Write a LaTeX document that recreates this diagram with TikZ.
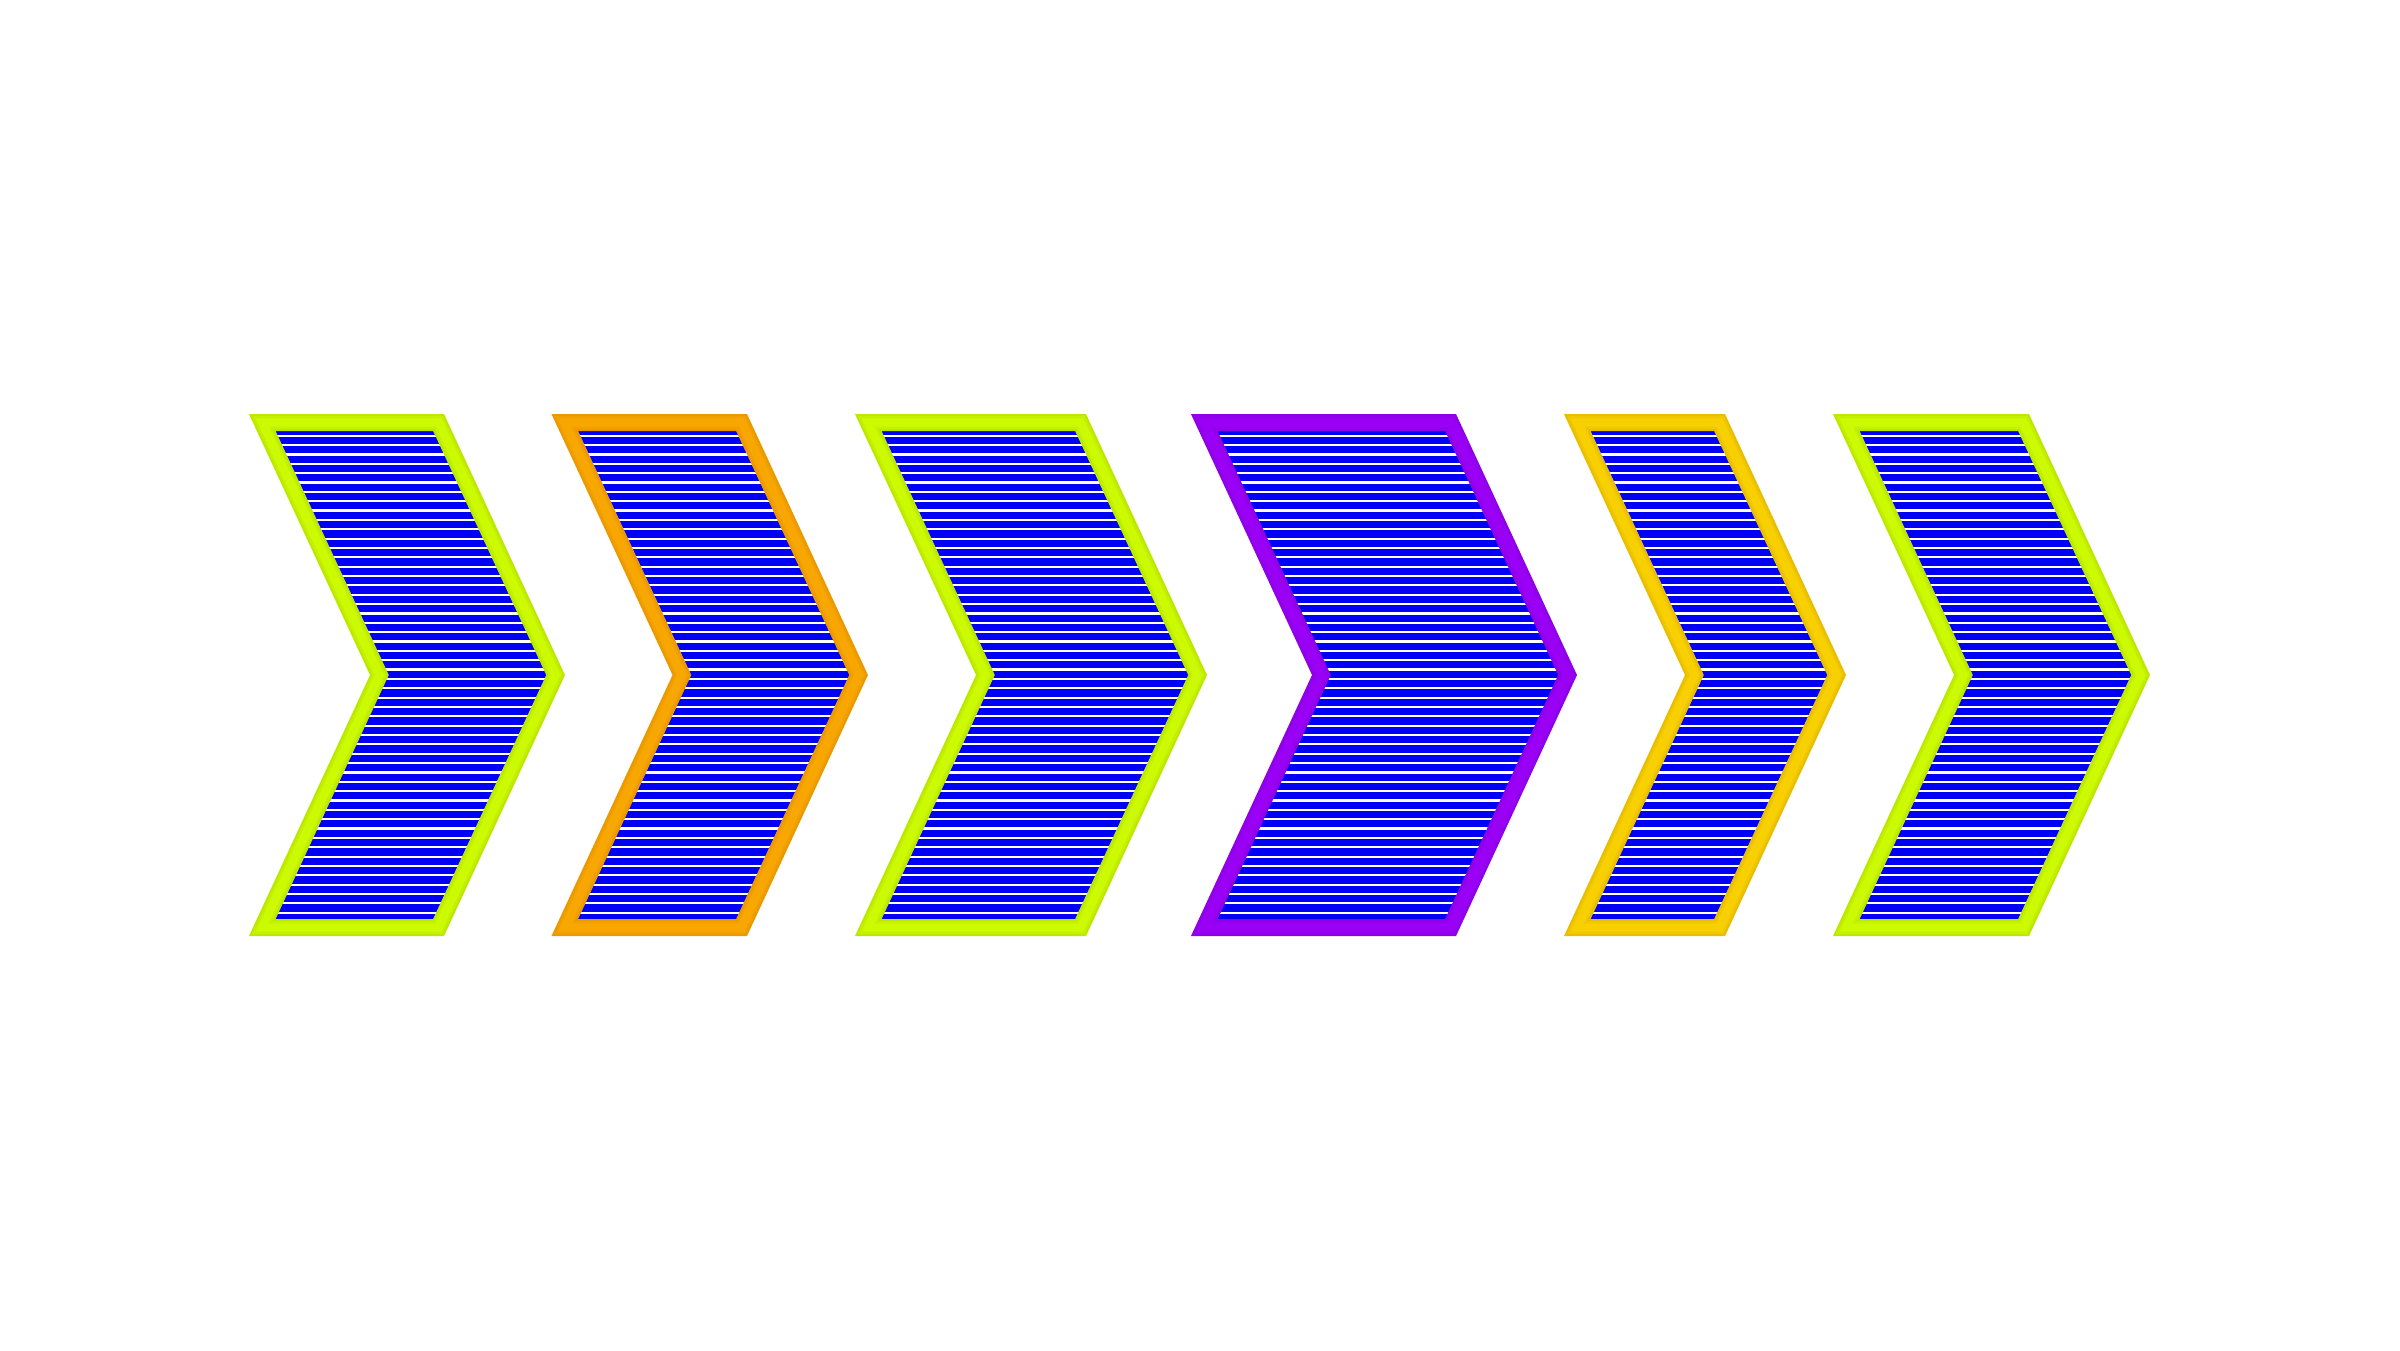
\documentclass[tikz,border=0pt]{standalone}
\definecolor{gD}{HTML}{BCE800}
\definecolor{gL}{HTML}{CCFA00}
\definecolor{oD}{HTML}{EA9A00}
\definecolor{oL}{HTML}{F8A700}
\definecolor{pD}{HTML}{8E00E6}
\definecolor{pL}{HTML}{9A00F5}
\definecolor{yD}{HTML}{E8BE00}
\definecolor{yL}{HTML}{F8D000}
\definecolor{stripeblue}{HTML}{0000F5}
\tikzset{
  chevfill/.style={fill=stripeblue},
  stripeline/.style={white, line width=0.62pt},
  rimdark/.style={draw=#1, line width=4.84pt, line join=miter},
  rimmid/.style={draw=#1, line width=3.6pt, line join=miter},
  rimlight/.style={draw=#1, line width=2.4pt, line join=miter}
}
\newcommand\mychev[4]{%
  \path[chevfill] (#1+13.3,422.5) -- (#2-5.43,422.5) -- (#2+111.6,675) -- (#2-5.43,927.5) -- (#1+13.3,927.5) -- (#1+130.4,675) -- cycle;
  \begin{scope}
    \clip (#1+13.3,422.5) -- (#2-5.43,422.5) -- (#2+111.6,675) -- (#2-5.43,927.5) -- (#1+13.3,927.5) -- (#1+130.4,675) -- cycle;
    \foreach \k in {0,...,51}{
      \draw[stripeline] (#1,435.7+\k*9.353) -- (#2+130,435.7+\k*9.353);
    }
  \end{scope}
  \path[rimdark=#3] (#1+13.3,422.5) -- (#2-5.43,422.5) -- (#2+111.6,675) -- (#2-5.43,927.5) -- (#1+13.3,927.5) -- (#1+130.4,675) -- cycle;
  \path[rimmid=#3!50!#4] (#1+13.3,422.5) -- (#2-5.43,422.5) -- (#2+111.6,675) -- (#2-5.43,927.5) -- (#1+13.3,927.5) -- (#1+130.4,675) -- cycle;
  \path[rimlight=#4] (#1+13.3,422.5) -- (#2-5.43,422.5) -- (#2+111.6,675) -- (#2-5.43,927.5) -- (#1+13.3,927.5) -- (#1+130.4,675) -- cycle;
}
\begin{document}
\begin{tikzpicture}[x=0.01cm, y=-0.01cm]
  \useasboundingbox[fill=white] (0,0) rectangle (2400,1350);
  \mychev{249}{444}{gD}{gL}
  \mychev{551.5}{747}{oD}{oL}
  \mychev{855}{1086}{gD}{gL}
  \mychev{1191}{1456}{pD}{pL}
  \mychev{1564}{1725}{yD}{yL}
  \mychev{1833}{2029}{gD}{gL}
\end{tikzpicture}
\end{document}
